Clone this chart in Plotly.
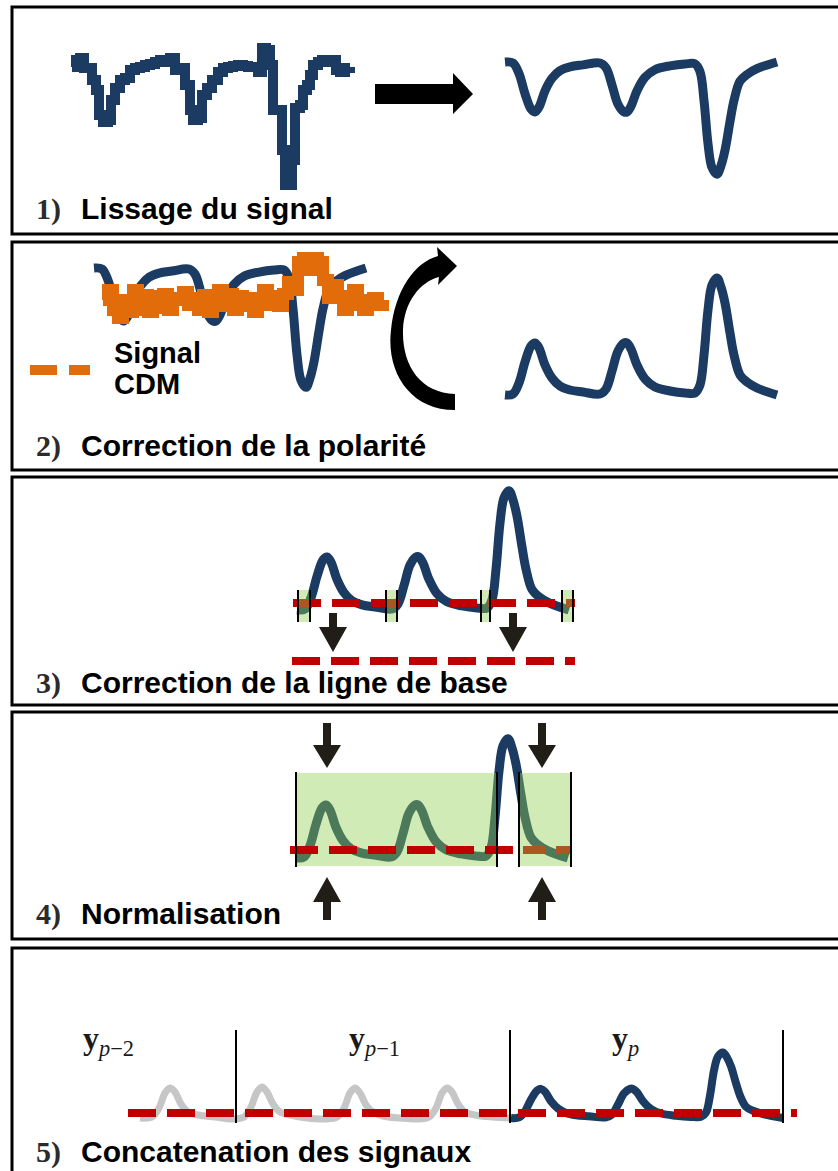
import plotly.graph_objects as go

W, H = 838, 1171

# ---------------- data (time in samples, amplitude in arbitrary units) ----------------
raw_time = [0, 4, 8, 12, 16, 20, 24, 27, 31, 36, 39, 43, 48, 53, 58, 63, 68, 73, 78, 83,
            88, 93, 98, 103, 108, 113, 118, 121, 126, 130, 135, 140, 146, 151, 156, 161, 166, 171, 176, 181,
            186, 190, 194, 198, 201, 206, 210, 213, 218, 220, 223, 228, 231, 235, 238, 241, 246, 250, 255, 260,
            264, 268, 273, 278]
raw_amp = [-2, 5, 7, -3, -3, -15, -25, -50, -57, -55, -35, -23, -15, -13, -5, -3, -2, 0, 1, 3,
           5, 3, 7, -5, -3, -20, -45, -55, -53, -30, -23, -15, -7, -3, -2, -1, 0, -1, -2, -2,
           -7, 17, 15, 0, -45, -45, -85, -120, -120, -95, -43, -40, -25, -20, -10, 0, 3, 5, 3, 5,
           -5, -7, -3, -2]

cdm_time = [0, 5, 10, 15, 20, 25, 30, 35, 40, 45, 50, 55, 60, 65, 70, 75, 80, 85, 90, 95,
            100, 105, 110, 115, 120, 125, 130, 135, 140, 145, 150, 155, 160, 165, 170, 175, 180, 185, 190, 195,
            200, 205, 210, 215, 220, 225, 230, 235, 240, 245, 250, 255, 260, 265, 270, 275, 280]
cdm_amp = [5, 15, -5, -13, 5, -7, 15, -5, 10, -7, 9, -3, 11, -5, 7, 5, 13, 0, 7, -5,
           10, -7, 5, 15, -1, 11, -5, 9, -1, 7, -7, 5, 15, 0, 9, -1, 11, 23, 15, 43,
           47, 35, 47, 43, 25, 7, 20, 9, -5, 5, 15, 0, -5, 5, 7, 0, 5]

ecg_time = [0, 8, 14, 20, 26, 30, 34, 40, 47, 55, 65, 78, 95, 101, 107, 113, 119, 122, 126, 132,
            140, 150, 165, 180, 190, 195, 199, 203, 207, 212, 216, 220, 225, 229, 235, 242, 252, 272]
ecg_amp = [0, 1, 12, 33, 49, 52, 47, 30, 17, 9, 5, 3, 1, 6, 24, 44, 52, 52, 46, 30,
           16, 8, 4, 2, 2, 10, 40, 85, 110, 117, 108, 92, 62, 40, 20, 13, 7, 0]

past_time = [0, 12, 19, 25, 30, 35, 41, 48, 58, 75, 92, 104, 111, 117, 122, 127, 133, 140, 150, 167,
             185, 197, 204, 210, 215, 220, 226, 233, 243, 260, 277, 289, 296, 302, 307, 312, 318, 325, 335, 352, 370]
past_amp = [0, 1, 10, 25, 30, 26, 14, 6, 3, 1, -1, 1, 11, 26, 31, 26, 14, 6, 3, 0,
            -1, 1, 10, 25, 30, 25, 13, 6, 2, 0, -1, 1, 10, 25, 30, 26, 14, 6, 3, 1, 0]

step_numbers = ["1)", "2)", "3)", "4)", "5)"]
step_titles = ["Lissage du signal", "Correction de la polarité", "Correction de la ligne de base",
               "Normalisation", "Concatenation des signaux"]
segment_labels = ["<b>y</b><sub><i>p</i>−2</sub>", "<b>y</b><sub><i>p</i>−1</sub>", "<b>y</b><sub><i>p</i></sub>"]
legend_lines = ["Signal", "CDM"]

# ---------------- styles ----------------
NAVY = "#1c3b63"
ORANGE = "#e36c0a"
RED = "#c00000"
GRAY = "#c6c6c6"
GREEN = "rgba(146,208,80,0.42)"
DARK = "#201e16"

fig = go.Figure()
layout = dict(
    width=W, height=H, margin=dict(l=0, r=0, t=0, b=0),
    paper_bgcolor="white", plot_bgcolor="rgba(0,0,0,0)", showlegend=False,
    xaxis=dict(domain=[0, 1], range=[0, W], visible=False, fixedrange=True),
    yaxis=dict(domain=[0, 1], range=[H, 0], visible=False, fixedrange=True),
)
counter = [1]


def mini_axes(x_start, baseline, sy, tlim, alim, sx=1.0):
    counter[0] += 1
    n = counter[0]
    x0 = x_start + sx * tlim[0]
    x1 = x_start + sx * tlim[1]
    ytop = baseline - sy * alim[1]
    ybot = baseline - sy * alim[0]
    layout[f"xaxis{n}"] = dict(domain=[x0 / W, x1 / W], range=list(tlim), visible=False,
                               anchor=f"y{n}", fixedrange=True)
    layout[f"yaxis{n}"] = dict(domain=[1 - ybot / H, 1 - ytop / H], range=list(alim), visible=False,
                               anchor=f"x{n}", fixedrange=True)
    return f"x{n}", f"y{n}"


def add_line(t, a, axes, color, width, shape="spline"):
    fig.add_trace(go.Scatter(x=t, y=a, xaxis=axes[0], yaxis=axes[1], mode="lines",
                             line=dict(color=color, width=width, shape=shape),
                             hoverinfo="skip"))


neg = [-v for v in ecg_amp]

# Panel 1
add_line(raw_time, raw_amp, mini_axes(72, 65, 1.0, (-12, 292), (-135, 30)), NAVY, 10, "hv")
add_line(ecg_time, neg, mini_axes(505, 62, 0.96, (-12, 285), (-135, 15)), NAVY, 9)
# Panel 2
add_line(ecg_time, neg, mini_axes(94, 268, 1.02, (-12, 285), (-135, 15)), NAVY, 9)
add_line(cdm_time, cdm_amp, mini_axes(103, 305, 1.0, (-12, 292), (-30, 62)), ORANGE, 12, "hv")
add_line(ecg_time, ecg_amp, mini_axes(505, 395, 1.0, (-12, 285), (-15, 135)), NAVY, 9)
# Panel 3
add_line(ecg_time, ecg_amp, mini_axes(297, 610, 1.02, (-12, 285), (-15, 135)), NAVY, 9)
# Panel 4
add_line(ecg_time, ecg_amp, mini_axes(296, 858, 1.02, (-12, 285), (-15, 135)), NAVY, 9)
# Panel 5
add_line(past_time, past_amp, mini_axes(140, 1118, 1.0, (-12, 382), (-12, 45)), GRAY, 7)
add_line(ecg_time, ecg_amp, mini_axes(511, 1118, 0.56, (-12, 285), (-20, 135)), NAVY, 8)

shapes = []


def line(x0, y0, x1, y1, color="black", width=2, dash=None):
    d = dict(type="line", xref="x", yref="y", x0=x0, y0=y0, x1=x1, y1=y1,
             line=dict(color=color, width=width), layer="above")
    if dash:
        d["line"]["dash"] = dash
    shapes.append(d)


def rect(x0, y0, x1, y1, fill=None, color=None, width=0):
    shapes.append(dict(type="rect", xref="x", yref="y", x0=x0, y0=y0, x1=x1, y1=y1,
                       fillcolor=fill or "rgba(0,0,0,0)",
                       line=dict(color=color or "rgba(0,0,0,0)", width=width), layer="above"))


def path(p, fill):
    shapes.append(dict(type="path", xref="x", yref="y", path=p, fillcolor=fill,
                       line=dict(width=0), layer="above"))


def v_arrow(cx, y0, yh, y1, shaft=8, head=28):
    return (f"M {cx - shaft / 2},{y0} L {cx + shaft / 2},{y0} L {cx + shaft / 2},{yh} "
            f"L {cx + head / 2},{yh} L {cx},{y1} L {cx - head / 2},{yh} L {cx - shaft / 2},{yh} Z")


REDDASH = "28px,11px"

# panel borders
for top, bot in [(7, 234), (242, 470), (477, 705), (712, 939), (948, 1195)]:
    rect(12, top, 860, bot, color="black", width=3)

# Panel 1 arrow
path("M 375,84 L 453,84 L 453,73 L 473,94 L 453,114 L 453,104 L 375,104 Z", "black")

# Panel 2 curved arrow
path("M 455,410 C 410,410 386,372 391,330 C 395,290 415,262 438,256 L 437,247 L 457,266 "
     "L 438,285 L 439,277 C 420,282 404,302 403,330 C 402,365 420,393 455,394 Z", "black")
# legend dash
line(30, 370, 90, 370, ORANGE, 10, "27px,12px")

# Panel 3
line(293, 603, 575, 603, RED, 8, REDDASH)
for a, b in [(298, 310), (386, 397), (481, 490), (562, 573)]:
    rect(a, 590, b, 622, fill=GREEN)
    line(a, 590, a, 622, "black", 2)
    line(b, 590, b, 622, "black", 2)
path(v_arrow(333, 613, 627, 652), DARK)
path(v_arrow(513, 613, 627, 652), DARK)
line(292, 661, 575, 661, RED, 8, REDDASH)

# Panel 4
line(523, 850, 571, 850, RED, 8, "22px,11px")
rect(296, 773, 497, 866, fill=GREEN)
rect(519, 773, 571, 866, fill=GREEN)
line(290, 850, 514, 850, RED, 8, REDDASH)
for xv in [296, 497, 519, 571]:
    line(xv, 772, xv, 867, "black", 2)
for cx in [327, 542]:
    path(v_arrow(cx, 723, 745, 768), DARK)
    path(v_arrow(cx, 920, 902, 877), DARK)

# Panel 5
line(128, 1113, 797, 1113, RED, 8, REDDASH)
for xv in [236, 510, 783]:
    line(xv, 1030, xv, 1123, "black", 2)

annotations = []
SANS = "Liberation Sans, Arial, sans-serif"
SERIF = "Liberation Serif, Times New Roman, serif"
for num, title, yc in zip(step_numbers, step_titles, [208, 445, 682, 913, 1151]):
    annotations.append(dict(x=34, y=yc + 1, xref="x", yref="y", text=f"<b>{num}</b>", showarrow=False,
                            xanchor="left", yanchor="middle",
                            font=dict(family=SERIF, size=30, color="#2b2b2b")))
    annotations.append(dict(x=79, y=yc, xref="x", yref="y", text=f"<b>{title}</b>", showarrow=False,
                            xanchor="left", yanchor="middle",
                            font=dict(family=SANS, size=30, color="black")))
for txt, yc in zip(legend_lines, [353, 384]):
    annotations.append(dict(x=112, y=yc, xref="x", yref="y", text=f"<b>{txt}</b>", showarrow=False,
                            xanchor="left", yanchor="middle",
                            font=dict(family=SANS, size=29, color="black")))
for txt, xc in zip(segment_labels, [108, 374, 625]):
    annotations.append(dict(x=xc, y=1040, xref="x", yref="y", text=txt, showarrow=False,
                            xanchor="center", yanchor="middle",
                            font=dict(family=SERIF, size=32, color="#1a1a1a")))

layout["shapes"] = shapes
layout["annotations"] = annotations
fig.update_layout(**layout)
fig.write_html("out.html", config={"displayModeBar": False, "staticPlot": True},
               post_script="document.body.style.margin='0px';document.body.style.padding='0px';"
                           "document.body.style.overflow='hidden';")
